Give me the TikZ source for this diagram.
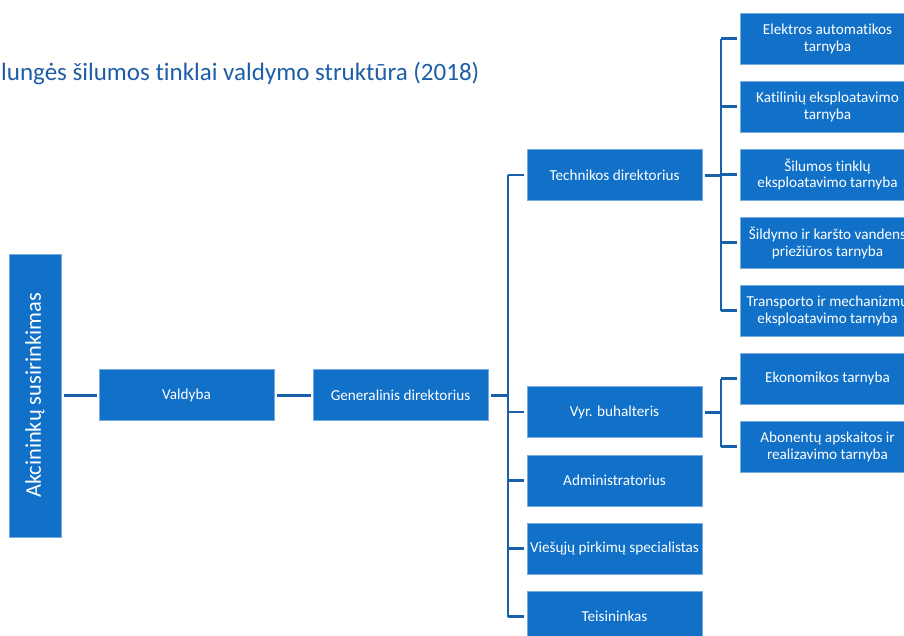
\documentclass[tikz,border=0pt]{standalone}
\usepackage{fontspec}
\setmainfont{Carlito}[Ligatures={NoCommon}]
\definecolor{boxblue}{RGB}{17,112,200}
\definecolor{boxedge}{RGB}{120,170,220}
\definecolor{lineblue}{RGB}{22,96,172}
\definecolor{titleblue}{RGB}{30,94,168}
\begin{document}
\begin{tikzpicture}[x=1pt,y=-1pt,
  box/.style={fill=boxblue,draw=boxedge,line width=0.6pt,text=white,align=center,
    minimum width=175pt,minimum height=51pt,inner sep=1pt,
    font=\fontsize{15.2}{17}\selectfont},
  conn/.style={draw=lineblue,line width=3pt},
  tree/.style={draw=lineblue,line width=2.2pt},
  stub/.style={draw=lineblue,line width=2.2pt,shorten >=2.5pt}]
\useasboundingbox (0,0) rectangle (904,635);
\begin{scope}
\clip (0,0) rectangle (904,635);
\node[anchor=base west,text=titleblue,font=\fontsize{25}{28}\selectfont,inner sep=0pt] (title) at (1,80) {lungės šilumos tinklai valdymo struktūra (2018)};

\node[box,rotate=90,minimum width=283pt,minimum height=52pt,font=\fontsize{22.4}{25}\selectfont] (akc) at (35,395.5) {Akcininkų susirinkimas};
\node[box] (valdyba) at (186.5,395) {Valdyba};
\node[box] (gen) at (400.5,395) {Generalinis direktorius};

\node[box] (tech) at (614.5,175) {Technikos direktorius};
\node[box] (vyr) at (614.5,412) {Vyr. buhalteris};
\node[box] (adm) at (614.5,480.5) {Administratorius};
\node[box] (vies) at (614.5,548.5) {Viešųjų pirkimų specialistas};
\node[box] (teis) at (614.5,616.5) {Teisininkas};

\node[box] (elek) at (827.5,38.5) {Elektros automatikos\\tarnyba};
\node[box] (kat) at (827.5,106.5) {Katilinių eksploatavimo\\tarnyba};
\node[box] (sil) at (827.5,174.5) {Šilumos tinklų\\eksploatavimo tarnyba};
\node[box] (sild) at (827.5,242.5) {Šildymo ir karšto vandens\\priežiūros tarnyba};
\node[box] (trans) at (827.5,310.5) {Transporto ir mechanizmų\\eksploatavimo tarnyba};

\node[box] (ekon) at (827.5,378.5) {Ekonomikos tarnyba};
\node[box] (abon) at (827.5,446.5) {Abonentų apskaitos ir\\realizavimo tarnyba};

\coordinate (tr1) at (508,395);
\coordinate (tr2) at (721,175);
\coordinate (tr3) at (721,412);

\draw[conn,shorten <=3pt,shorten >=2pt] (valdyba.west -| akc.south) -- (valdyba.west);
\draw[conn,shorten <=3pt,shorten >=2pt] (valdyba.east) -- (gen.west);

\draw[conn,shorten <=3pt] (gen.east) -- (tr1);
\draw[tree] (tech.west -| tr1) -- (teis.west -| tr1);
\foreach \n in {tech,vyr,adm,vies,teis} \draw[stub] (\n.west -| tr1) -- (\n.west);

\draw[conn,shorten <=3pt] (tech.east) -- (tr2);
\draw[tree] (elek.west -| tr2) -- (trans.west -| tr2);
\foreach \n in {elek,kat,sil,sild,trans} \draw[stub] (\n.west -| tr2) -- (\n.west);

\draw[conn,shorten <=3pt] (vyr.east) -- (tr3);
\draw[tree] (ekon.west -| tr3) -- (abon.west -| tr3);
\foreach \n in {ekon,abon} \draw[stub] (\n.west -| tr3) -- (\n.west);
\end{scope}
\end{tikzpicture}
\end{document}
